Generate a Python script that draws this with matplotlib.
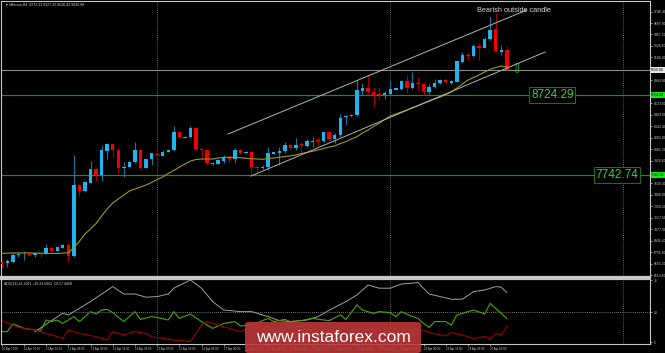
import numpy as np
import matplotlib
matplotlib.use('Agg')
import matplotlib.pyplot as plt
from matplotlib.patches import FancyBboxPatch

plt.rcParams['font.family'] = ['Liberation Sans', 'DejaVu Sans']

# #Bitcoin H4 candles, 10 Apr 2018 08:00 .. 25 Apr 12:00
opens = [6679, 6659, 6672, 6757, 6770, 6773, 6761, 6789, 6782, 6847, 6814, 6851,
         6888, 6753, 7620, 7550, 7648, 7816, 7743, 8041, 8119, 8055, 7829, 7845,
         7902, 8050, 7832, 7935, 8000, 7980, 8029, 8046, 8270, 8200, 8205, 8316,
         8062, 8050, 7882, 7882, 7915, 7960, 7935, 8050, 8017, 8029, 7845, 7829,
         7845, 8000, 8017, 8041, 8111, 8078, 8119, 8102, 8147, 8172, 8160, 8267,
         8181, 8233, 8451, 8470, 8479, 8777, 8806, 8761, 8733, 8720, 8737, 8790,
         8794, 8896, 8806, 8871, 8859, 8765, 8822, 8868, 8908, 8875, 8888, 9133,
         9210, 9207, 9325, 9305, 9411, 9530, 9248, 9272]
highs = [6700, 6708, 6782, 6782, 6810, 6780, 6802, 6802, 6892, 6855, 6865, 6895,
         6905, 7988, 7632, 7665, 7918, 7825, 8111, 8132, 8132, 8070, 7906, 7915,
         8151, 8060, 7940, 8015, 8070, 8045, 8060, 8344, 8280, 8220, 8344, 8325,
         8070, 8060, 7905, 7935, 7988, 7975, 8074, 8060, 8040, 8040, 7865, 7860,
         8090, 8030, 8090, 8144, 8120, 8193, 8151, 8181, 8208, 8208, 8274, 8275,
         8254, 8491, 8479, 8490, 8908, 8868, 8970, 8826, 8819, 8777, 8908, 8815,
         8910, 8970, 9003, 8949, 8875, 8855, 8920, 8920, 8920, 8905, 9154, 9256,
         9256, 9350, 9366, 9432, 9685, 9727, 9338, 9327]
lows = [6598, 6618, 6659, 6740, 6700, 6750, 6740, 6733, 6773, 6805, 6805, 6845,
        6679, 6740, 7485, 7535, 7641, 7673, 7673, 7935, 7960, 7771, 7722, 7835,
        7894, 7820, 7825, 7865, 7865, 7970, 8020, 8040, 8195, 8195, 8197, 8050,
        7935, 7870, 7870, 7875, 7886, 7905, 7890, 8005, 8010, 7730, 7783, 7815,
        7804, 7995, 7865, 8009, 8070, 8050, 7999, 8090, 8090, 8111, 8151, 8175,
        8139, 8213, 8356, 8460, 8470, 8724, 8724, 8573, 8663, 8675, 8724, 8785,
        8785, 8745, 8800, 8786, 8724, 8724, 8806, 8860, 8870, 8865, 8880, 9113,
        9154, 9194, 9154, 9297, 9399, 9256, 9215, 9026]
closes = [6651, 6688, 6761, 6773, 6772, 6757, 6786, 6773, 6843, 6814, 6856, 6888,
          6753, 7620, 7550, 7653, 7816, 7743, 8046, 8119, 8050, 7825, 7845, 7902,
          8050, 7832, 7935, 8009, 7984, 8029, 8050, 8270, 8205, 8213, 8316, 8062,
          8050, 7886, 7894, 7927, 7960, 7935, 8050, 8017, 8029, 7845, 7825, 7845,
          8009, 8021, 8041, 8111, 8078, 8111, 8107, 8156, 8160, 8160, 8267, 8181,
          8237, 8446, 8470, 8483, 8786, 8814, 8761, 8724, 8730, 8745, 8794, 8806,
          8900, 8814, 8875, 8865, 8777, 8826, 8868, 8908, 8880, 8895, 9142, 9215,
          9200, 9329, 9305, 9411, 9522, 9268, 9276, 9031]

# moving average (olive line)
ma = [6782, 6784, 6786, 6786, 6786, 6786, 6784, 6782, 6780, 6780, 6780, 6784,
      6789, 6850, 6930, 7019, 7080, 7148, 7240, 7326, 7399, 7448, 7497, 7546,
      7571, 7596, 7620, 7651, 7688, 7718, 7761, 7798, 7841, 7878, 7914, 7933,
      7939, 7939, 7939, 7951, 7960, 7960, 7960, 7954, 7948, 7942, 7939, 7935,
      7945, 7951, 7960, 7970, 7978, 7988, 8007, 8019, 8034, 8050, 8068, 8086,
      8099, 8129, 8151, 8184, 8213, 8258, 8295, 8338, 8377, 8424, 8467, 8491,
      8516, 8540, 8571, 8595, 8622, 8647, 8675, 8700, 8730, 8761, 8810, 8859,
      8908, 8939, 8970, 9007, 9040, 9062, 9080, 9068]

# ADX(14) window
adx_x = [6, 11, 12, 13, 16, 20, 22, 24, 26, 28, 30, 31, 34, 36, 38, 40, 43, 45,
         48, 50, 52, 55, 57, 59, 62, 64, 66, 68, 70, 72, 75, 77, 81, 83, 85, 87,
         89, 90, 91]
adx = [10.2, 19.4, 18.5, 20.2, 25.2, 32.7, 29.0, 29.0, 27.4, 27.7, 29.0, 31.9,
       36.0, 31.9, 25.2, 21.0, 20.2, 20.2, 17.7, 15.7, 15.2, 16.0, 17.7, 20.9,
       25.2, 28.5, 33.5, 31.9, 31.9, 34.0, 34.7, 29.0, 26.4, 26.4, 30.2, 31.0,
       32.7, 32.4, 29.7]
pdi_x = [0, 1, 2, 3, 4, 6, 7, 8, 9, 10, 11, 12, 13, 14, 15, 16, 17, 18, 19, 20,
         22, 24, 25, 27, 28, 30, 31, 32, 34, 36, 38, 40, 42, 43, 45, 48, 49, 51,
         52, 54, 56, 58, 59, 61, 62, 64, 65, 67, 68, 70, 71, 72, 74, 75, 76, 77,
         78, 80, 81, 82, 83, 85, 87, 88, 89, 91]
pdi = [10.2, 10.2, 14.0, 13.0, 11.8, 11.0, 10.5, 16.0, 15.2, 16.0, 14.3, 16.0,
       17.7, 15.2, 17.7, 20.2, 19.0, 21.0, 21.3, 19.7, 15.2, 20.2, 16.3, 17.7,
       17.3, 16.0, 20.2, 16.8, 19.0, 15.2, 11.8, 14.3, 15.2, 13.0, 13.5, 16.8,
       15.2, 16.3, 15.2, 15.7, 16.8, 16.0, 15.7, 18.5, 16.3, 23.5, 21.0, 19.3,
       20.2, 19.7, 17.7, 20.2, 17.7, 16.8, 14.3, 12.3, 15.2, 15.2, 13.5, 18.5,
       19.3, 21.0, 19.0, 24.3, 21.8, 16.8]
mdi_x = [0, 2, 3, 6, 9, 11, 12, 14, 17, 19, 20, 22, 24, 26, 27, 31, 34, 36, 37,
         38, 41, 43, 45, 47, 49, 52, 55, 58, 61, 64, 67, 70, 73, 76, 77, 80, 81,
         83, 85, 87, 88, 89, 90, 91]
mdi = [15.7, 13.5, 12.3, 11.0, 8.5, 6.8, 11.0, 9.3, 7.7, 6.0, 10.2, 8.5, 10.2,
       9.3, 7.7, 6.0, 5.2, 13.5, 15.2, 14.3, 11.8, 10.2, 12.5, 11.5, 10.5, 9.5,
       11.0, 9.5, 8.0, 6.5, 10.0, 9.0, 11.0, 11.0, 9.7, 8.0, 9.7, 8.5, 6.8, 7.7,
       6.5, 9.3, 8.5, 12.7]

time_labels = ['10 Apr 2018', '11 Apr 00:00', '11 Apr 16:00', '12 Apr 08:00',
               '13 Apr 00:00', '13 Apr 16:00', '14 Apr 08:00', '15 Apr 00:00',
               '15 Apr 16:00', '16 Apr 08:00', '17 Apr 00:00', '17 Apr 16:00',
               '18 Apr 08:00', '19 Apr 00:00', '19 Apr 16:00', '20 Apr 08:00',
               '21 Apr 00:00', '21 Apr 16:00', '22 Apr 08:00', '23 Apr 00:00',
               '23 Apr 16:00', '24 Apr 08:00', '25 Apr 00:00']
price_ticks = [6514.60, 6655.20, 6795.80, 6936.40, 7077.00, 7217.60, 7358.20,
               7498.80, 7639.40, 7780.00, 7920.60, 8061.20, 8201.80, 8342.40,
               8483.00, 8623.60, 8764.20, 8904.80, 9045.40, 9186.00, 9326.60,
               9467.20, 9607.80, 9748.40]

# channel drawn on the chart (bar index, price)
chan_top_x, chan_top_y = [40.8, 94.6], [8246, 9767]
chan_bot_x, chan_bot_y = [44.9, 97.9], [7730, 9252]
levels = [8724.29, 7742.74]
bid = 9030.88

opens, highs, lows, closes = map(np.array, (opens, highs, lows, closes))
x = np.arange(len(opens))
up = closes >= opens

bg = 'black'
frame = '#c8c8c8'
fig = plt.figure(figsize=(6.65, 3.53), dpi=100, facecolor=bg)
ax = fig.add_axes([1 / 665, 76 / 353, 649 / 665, 276 / 353], facecolor=bg)
ax2 = fig.add_axes([1 / 665, 9 / 353, 649 / 665, 65 / 353], facecolor=bg)

for a in (ax, ax2):
    for s in a.spines.values():
        s.set_color(frame)
        s.set_linewidth(0.8)
    a.set_xlim(-0.13, 116.8)
    for v in (28, 70, 112):
        a.axvline(v, color='#7a7a7a', ls=(0, (1, 1.5)), lw=0.6, zorder=0)
ax.spines['bottom'].set_linewidth(1.6)
ax2.spines['top'].set_linewidth(1.6)

# price panel
ax.set_ylim(6491, 9878)
ax.axhline(bid, color='#8c8c8c', lw=0.8, zorder=1)
for lv in levels:
    ax.axhline(lv, color='#1f8a1f', lw=0.9, zorder=1)

ax.vlines(x[up], lows[up], highs[up], color='#1d7396', lw=0.8, zorder=2)
ax.vlines(x[~up], lows[~up], highs[~up], color='#a30000', lw=0.8, zorder=2)
body = np.maximum(np.abs(closes - opens), 8)
bottom = np.minimum(opens, closes)
ax.bar(x[up], body[up], bottom=bottom[up], width=0.62, color='#1eb4f0', zorder=3)
ax.bar(x[~up], body[~up], bottom=bottom[~up], width=0.62, color='#f00000', zorder=3)

ax.plot(x, ma, color='#9a9a1e', lw=0.8, zorder=4)
ax.plot(chan_top_x, chan_top_y, color='#b4b4b4', lw=0.7, zorder=4)
ax.plot(chan_bot_x, chan_bot_y, color='#b4b4b4', lw=0.7, zorder=4)

ax.text(99.2, levels[0], '8724.29', color='#3ad03a', fontsize=8.5, ha='center',
        va='center', zorder=6,
        bbox=dict(fc='black', ec='#1f6a1f', lw=0.8, pad=1.2))
ax.text(110.8, levels[1], '7742.74', color='#3ad03a', fontsize=8.5, ha='center',
        va='center', zorder=6,
        bbox=dict(fc='black', ec='#1f6a1f', lw=0.8, pad=1.2))
ax.text(92.2, 9767, 'Bearish outside candle', color='#d8d8d8', fontsize=5.3,
        ha='center', va='center')
ax.text(92.9, bid, '\u21e9', color='#3ad03a', fontsize=9, ha='center',
        va='center', family=['DejaVu Sans'])
ax.text(0.008, 0.993, '\u25be #Bitcoin,H4  9272.43 9327.20 9026.42 9030.88',
        transform=ax.transAxes, color='#d0d0d0', fontsize=2.6, va='top')

ax.yaxis.tick_right()
ax.set_yticks([t for t in price_ticks
               if min(abs(t - bid), *[abs(t - l) for l in levels]) > 60])
ax.set_yticklabels(['%.2f' % t for t in ax.get_yticks()])
ax.tick_params(axis='y', labelsize=2.5, colors=frame, length=1.5, pad=1, width=0.5)
ax.tick_params(axis='x', bottom=False, labelbottom=False)
yt = ax.get_yaxis_transform()
ax.text(1.002, bid, '9030.88', transform=yt, fontsize=2.5, color='black',
        va='center', bbox=dict(fc='#e8e8e8', ec='none', pad=0.4))
for lv in levels:
    ax.text(1.002, lv, '%.2f' % lv, transform=yt, fontsize=2.5, color='black',
            va='center', bbox=dict(fc='#19e619', ec='none', pad=0.4))

# ADX panel
ax2.set_ylim(4, 36.5)
ax2.axhline(20, color='#9a9a9a', ls=(0, (1, 1.5)), lw=0.6, zorder=0)
ax2.plot(adx_x, adx, color='#a0a0a0', lw=0.7)
ax2.plot(pdi_x, pdi, color='#4aa800', lw=0.8)
ax2.plot(mdi_x, mdi, color='#a00000', lw=0.8)
ax2.text(0.004, 0.95, 'ADX(14) 45.4061 +DI:23.6962 -DI:17.4458',
         transform=ax2.transAxes, color='#d0d0d0', fontsize=2.6, va='top')
ax2.yaxis.tick_right()
ax2.set_yticks([36, 20, 5])
ax2.set_yticklabels(['36', '20', '5'])
ax2.tick_params(axis='y', labelsize=2.5, colors=frame, length=1.5, pad=1, width=0.5)
ax2.set_xticks(np.arange(len(time_labels)) * 4)
ax2.set_xticklabels(time_labels, ha='left')
ax2.tick_params(axis='x', labelsize=2.1, colors=frame, length=1.5, pad=1, width=0.5)

# watermark
fig.patches.append(FancyBboxPatch((245 / 665, 0), 176 / 665, 31 / 353,
                                  boxstyle='round,pad=0,rounding_size=0.006',
                                  transform=fig.transFigure, fc='#c03838',
                                  ec='none', alpha=0.88, zorder=10))
fig.text(333 / 665, 15 / 353, 'www.instaforex.com', color='white', fontsize=12.5,
         ha='center', va='center', zorder=11)

fig.savefig('out.png', dpi=100, facecolor=bg)
